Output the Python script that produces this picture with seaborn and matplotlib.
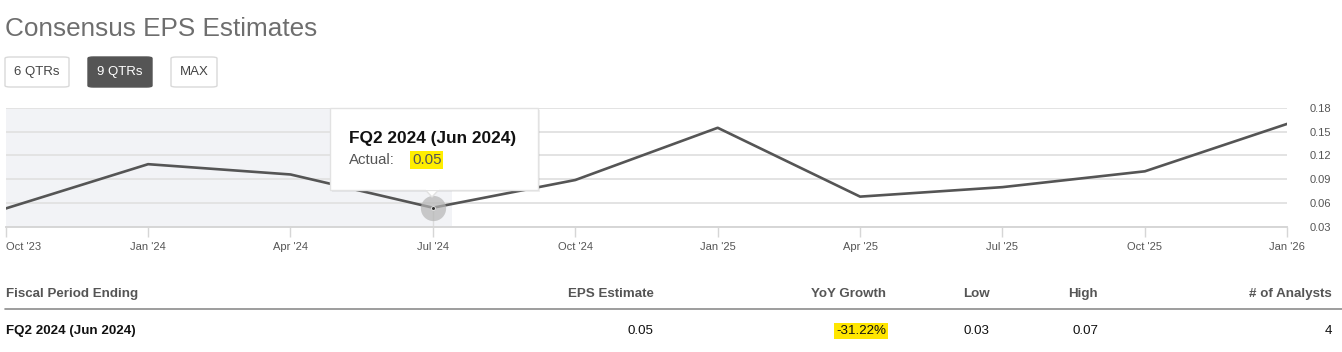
import matplotlib
matplotlib.use("Agg")
import matplotlib.pyplot as plt
from matplotlib.patches import FancyBboxPatch, Rectangle, Polygon
import numpy as np
import pandas as pd
import seaborn as sns

# --- data ---
quarters = ["Oct '23", "Jan '24", "Apr '24", "Jul '24", "Oct '24",
            "Jan '25", "Apr '25", "Jul '25", "Oct '25", "Jan '26"]
eps = [0.053, 0.109, 0.096, 0.054, 0.089, 0.155, 0.068, 0.080, 0.100, 0.160]
y_ticks = [0.03, 0.06, 0.09, 0.12, 0.15, 0.18]
buttons = ["6 QTRs", "9 QTRs", "MAX"]
active_button = "9 QTRs"
hover_idx = 3
hover_label = "FQ2 2024 (Jun 2024)"
hover_actual = "0.05"
table_cols = ["Fiscal Period Ending", "EPS Estimate", "YoY Growth", "Low", "High", "# of Analysts"]
table_row = ["FQ2 2024 (Jun 2024)", "0.05", "-31.22%", "0.03", "0.07", "4"]

df = pd.DataFrame({"pos": np.arange(len(quarters)), "eps": eps})

# --- style ---
sns.set_theme(style="white")
plt.rcParams['font.family'] = ['Liberation Sans', 'DejaVu Sans']
narrow = ['Liberation Sans Narrow', 'Liberation Sans', 'DejaVu Sans']

W, H = 1342, 352
fig = plt.figure(figsize=(W / 100, H / 100), dpi=100)
fig.patch.set_facecolor("white")

def fx(x):
    return x / W

def fy(y):
    return 1 - y / H

# chart area in pixels
left, right, top, bottom = 5.7, 1287.3, 108, 226.7
ax = fig.add_axes([fx(left), fy(bottom), fx(right - left), (bottom - top) / H])
ax.set_facecolor("white")

# past region shading
ax.axvspan(0, hover_idx + 0.133, color="#f2f3f6", zorder=0, lw=0)

sns.lineplot(data=df, x="pos", y="eps", ax=ax, color="#555555", linewidth=1.9, zorder=3)

# hover marker + crosshair
ax.plot([df.pos[hover_idx]] * 2, [0.03, eps[hover_idx]], color="#dddddd", lw=1, zorder=2)
ax.scatter(df.pos[hover_idx], eps[hover_idx], s=330, color="#b5b5b5", alpha=0.7, zorder=4, lw=0)
ax.scatter(df.pos[hover_idx], eps[hover_idx], s=8, color="#333333", edgecolor="#eeeeee", lw=0.6, zorder=5)

ax.set_xlim(0, len(quarters) - 1)
ax.set_ylim(0.03, 0.18)
ax.set_xticks(df.pos)
ax.set_xticklabels(quarters)
ax.get_xticklabels()[0].set_ha("left")
ax.set_yticks(y_ticks)
ax.set_yticklabels([f"{v:.2f}" for v in y_ticks])
ax.yaxis.tick_right()
ax.grid(axis="y", color="#e3e3e3", lw=1.4)
ax.set_axisbelow(True)
ax.set_xlabel("")
ax.set_ylabel("")
for s in ["top", "left", "right"]:
    ax.spines[s].set_visible(False)
ax.spines["bottom"].set_color("#d6d6d6")
ax.spines["bottom"].set_linewidth(1.4)
ax.tick_params(axis="x", bottom=True, length=7, width=1, color="#d6d6d6",
               labelsize=8, labelcolor="#555555", pad=4)
ax.tick_params(axis="y", right=False, length=0, labelsize=8, labelcolor="#555555", pad=16)

# --- title and buttons ---
fig.text(fx(5), fy(29), "Consensus EPS Estimates", fontsize=18.8, color="#6e6e6e",
         ha="left", va="center")
btn_boxes = [(5, 69), (88, 152), (171, 217)]
for label, (x0, x1) in zip(buttons, btn_boxes):
    active = label == active_button
    box = FancyBboxPatch((fx(x0), fy(87)), fx(x1 - x0), 30 / H,
                         boxstyle="round,pad=0,rounding_size=0.004",
                         transform=fig.transFigure,
                         facecolor="#555555" if active else "white",
                         edgecolor="#555555" if active else "#d9d9d9", lw=1)
    fig.patches.append(box)
    fig.text(fx((x0 + x1) / 2), fy(72), label, fontsize=9.5,
             color="white" if active else "#444444", ha="center", va="center")

# --- tooltip ---
tx0, tx1, ty0, ty1 = 330, 538, 108, 190
shadow = Rectangle((fx(tx0 + 2), fy(ty1 + 2)), fx(tx1 - tx0), (ty1 - ty0) / H,
                   transform=fig.transFigure, facecolor="#000000", alpha=0.06, lw=0, zorder=5)
tip = Rectangle((fx(tx0), fy(ty1)), fx(tx1 - tx0), (ty1 - ty0) / H,
                transform=fig.transFigure, facecolor="white", edgecolor="#e2e2e2", lw=1, zorder=6)
arrow = Polygon([(fx(425), fy(ty1 - 0.5)), (fx(439), fy(ty1 - 0.5)), (fx(432), fy(197))],
                closed=True, transform=fig.transFigure, facecolor="white",
                edgecolor="#e2e2e2", lw=1, zorder=6)
fig.patches.extend([shadow, arrow, tip])
fig.patches.append(Rectangle((fx(425.5), fy(ty1 + 0.5)), fx(13), 2 / H,
                             transform=fig.transFigure, facecolor="white", lw=0, zorder=7))
fig.text(fx(349), fy(138), hover_label, fontsize=12.4, fontweight="bold", color="#111111",
         ha="left", va="center", zorder=8)
fig.text(fx(349), fy(160), "Actual:", fontsize=10.8, color="#555555", ha="left", va="center", zorder=8)
fig.text(fx(412), fy(160), hover_actual, fontsize=10.8, color="#555555", ha="left", va="center", zorder=8,
         bbox=dict(boxstyle="square,pad=0.12", facecolor="#ffee00", edgecolor="none"))

# --- table ---
col_x = [6, 654, 886, 990, 1098, 1332]
col_ha = ["left", "right", "right", "right", "right", "right"]
for i, (name, x, ha) in enumerate(zip(table_cols, col_x, col_ha)):
    fig.text(fx(x), fy(294), name, fontsize=9.6, fontweight="bold", color="#555555",
             ha=ha, va="center", family=narrow)
fig.add_artist(plt.Line2D([fx(5), fx(1342)], [fy(309), fy(309)], color="#8c8c8c", lw=1.2))
for i, (val, x, ha) in enumerate(zip(table_row, col_x, col_ha)):
    kw = {}
    if i == 0:
        kw["fontweight"] = "bold"
    if i == 2:
        kw["bbox"] = dict(boxstyle="square,pad=0.15", facecolor="#ffe600", edgecolor="none")
    fig.text(fx(x), fy(331), val, fontsize=9.6, color="#111111", ha=ha, va="center",
             family=narrow, **kw)

fig.savefig("out.png", dpi=100)
